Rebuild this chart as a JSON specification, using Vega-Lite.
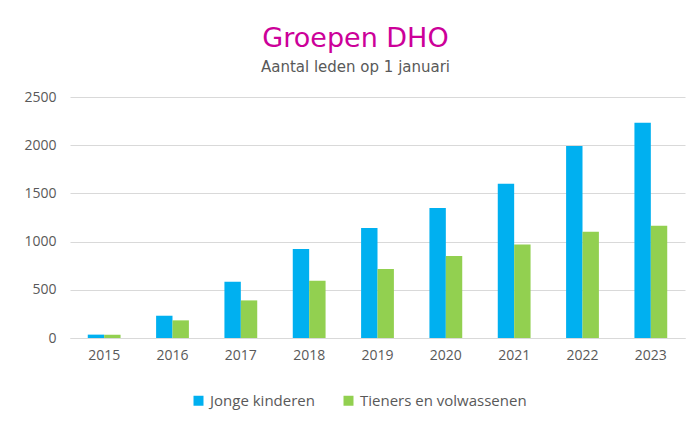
{
  "$schema": "https://vega.github.io/schema/vega-lite/v6.json",
  "autosize": {"type": "none"},
  "width": 615,
  "height": 241,
  "padding": {"left": 70, "top": 97, "right": 15, "bottom": 87},
  "background": "white",
  "title": {
    "text": "Groepen DHO",
    "subtitle": "Aantal leden op 1 januari",
    "anchor": "middle",
    "frame": "group",
    "dx": -22,
    "offset": 14,
    "font": "DejaVu Sans",
    "fontSize": 27,
    "fontWeight": "normal",
    "color": "#CC0099",
    "subtitleFont": "DejaVu Sans",
    "subtitleFontSize": 15,
    "subtitleColor": "#595959",
    "subtitlePadding": 7
  },
  "data": {
    "values": [
      {"jaar": "2015", "groep": "Jonge kinderen", "leden": 35},
      {"jaar": "2015", "groep": "Tieners en volwassenen", "leden": 35},
      {"jaar": "2016", "groep": "Jonge kinderen", "leden": 231},
      {"jaar": "2016", "groep": "Tieners en volwassenen", "leden": 183},
      {"jaar": "2017", "groep": "Jonge kinderen", "leden": 584},
      {"jaar": "2017", "groep": "Tieners en volwassenen", "leden": 390},
      {"jaar": "2018", "groep": "Jonge kinderen", "leden": 923},
      {"jaar": "2018", "groep": "Tieners en volwassenen", "leden": 594},
      {"jaar": "2019", "groep": "Jonge kinderen", "leden": 1141},
      {"jaar": "2019", "groep": "Tieners en volwassenen", "leden": 716},
      {"jaar": "2020", "groep": "Jonge kinderen", "leden": 1348},
      {"jaar": "2020", "groep": "Tieners en volwassenen", "leden": 850},
      {"jaar": "2021", "groep": "Jonge kinderen", "leden": 1600},
      {"jaar": "2021", "groep": "Tieners en volwassenen", "leden": 971},
      {"jaar": "2022", "groep": "Jonge kinderen", "leden": 1991},
      {"jaar": "2022", "groep": "Tieners en volwassenen", "leden": 1102},
      {"jaar": "2023", "groep": "Jonge kinderen", "leden": 2233},
      {"jaar": "2023", "groep": "Tieners en volwassenen", "leden": 1165}
    ]
  },
  "mark": {"type": "bar"},
  "encoding": {
    "x": {
      "field": "jaar",
      "type": "nominal",
      "scale": {"paddingInner": 0.52, "paddingOuter": 0.26},
      "axis": {
        "title": null,
        "labelAngle": 0,
        "labelFont": "Open Sans",
        "labelFontSize": 14,
        "labelColor": "#595959",
        "labelPadding": 10,
        "ticks": false,
        "domainColor": "#D9D9D9",
        "domainWidth": 1
      }
    },
    "xOffset": {"field": "groep", "type": "nominal", "sort": ["Jonge kinderen", "Tieners en volwassenen"]},
    "y": {
      "field": "leden",
      "type": "quantitative",
      "scale": {"domain": [0, 2500]},
      "axis": {
        "title": null,
        "values": [0, 500, 1000, 1500, 2000, 2500],
        "format": "d",
        "labelFont": "Open Sans",
        "labelFontSize": 14,
        "labelColor": "#595959",
        "labelPadding": 14,
        "ticks": false,
        "domain": false,
        "gridColor": "#D9D9D9",
        "gridWidth": 1
      }
    },
    "color": {
      "field": "groep",
      "type": "nominal",
      "sort": ["Jonge kinderen", "Tieners en volwassenen"],
      "scale": {"domain": ["Jonge kinderen", "Tieners en volwassenen"], "range": ["#00B0F0", "#92D050"]},
      "legend": {
        "title": null,
        "orient": "none",
        "direction": "horizontal",
        "legendX": 121,
        "legendY": 296,
        "symbolType": "square",
        "symbolSize": 100,
        "symbolStrokeWidth": 0,
        "symbolOpacity": 1,
        "labelFont": "Open Sans",
        "labelFontSize": 15,
        "labelLimit": 400,
        "labelColor": "#595959",
        "labelOffset": 4,
        "columnPadding": 26
      }
    }
  },
  "config": {
    "view": {"stroke": null}
  }
}
